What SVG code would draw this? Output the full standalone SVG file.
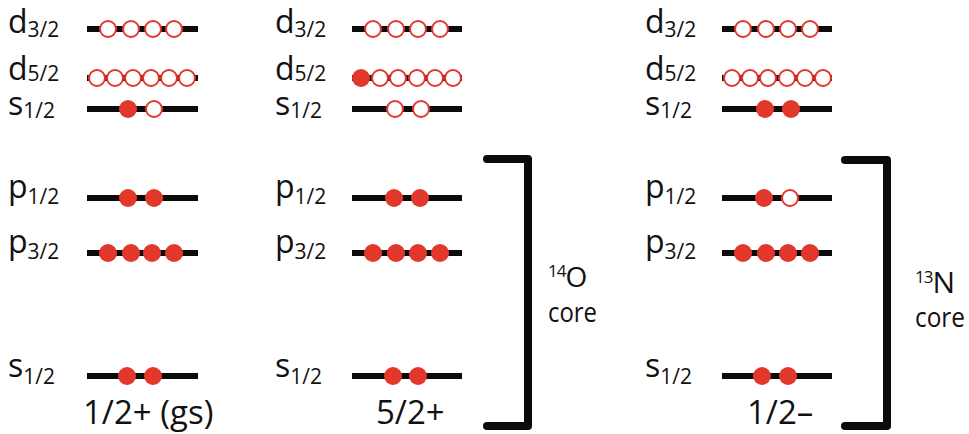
<svg xmlns="http://www.w3.org/2000/svg" width="969" height="434" viewBox="0 0 969 434">
<defs>
<style>
.lv{stroke:#0b0b0b;stroke-width:6;fill:none}
.f{fill:#e2382b}
.o{fill:#fff;stroke:#e2382b;stroke-width:2}
.lb{font-family:"Open Sans","Noto Sans",sans-serif;font-size:32px;fill:#111}
.sb{font-size:21px}
.st{font-family:"Open Sans","Noto Sans",sans-serif;font-size:33px;fill:#111}
.br{stroke:#0b0b0b;stroke-width:8;fill:none;stroke-linecap:round;stroke-linejoin:round}
.cr{font-family:"Open Sans","Noto Sans",sans-serif;font-size:27px;fill:#111}
</style>
</defs>
<rect width="969" height="434" fill="#fff"/>

<!-- Column 1 -->
<g id="col1">
<g id="c1-d32"><text class="lb" x="8" y="33">d<tspan class="sb" dy="4">3/2</tspan></text>
<line class="lv" x1="87" y1="29" x2="198" y2="29"/>
<circle class="o" cx="108" cy="29" r="8"/><circle class="o" cx="131" cy="29" r="8"/><circle class="o" cx="153" cy="29" r="8"/><circle class="o" cx="174" cy="29" r="8"/></g>
<g id="c1-d52"><text class="lb" x="8" y="80">d<tspan class="sb" dy="1">5/2</tspan></text>
<line class="lv" x1="87" y1="78" x2="198" y2="78"/>
<circle class="o" cx="97" cy="78" r="8"/><circle class="o" cx="115" cy="78" r="8"/><circle class="o" cx="133" cy="78" r="8"/><circle class="o" cx="151" cy="78" r="8"/><circle class="o" cx="169" cy="78" r="8"/><circle class="o" cx="187" cy="78" r="8"/></g>
<g id="c1-s12"><text class="lb" x="8" y="115">s<tspan class="sb" dy="3">1/2</tspan></text>
<line class="lv" x1="87" y1="109" x2="198" y2="109"/>
<circle class="f" cx="128" cy="109" r="9"/><circle class="o" cx="154" cy="109" r="8"/></g>
<g id="c1-p12"><text class="lb" x="8" y="198">p<tspan class="sb" dy="6">1/2</tspan></text>
<line class="lv" x1="87" y1="198" x2="198" y2="198"/>
<circle class="f" cx="128" cy="198" r="9"/><circle class="f" cx="154" cy="198" r="9"/></g>
<g id="c1-p32"><text class="lb" x="8" y="253">p<tspan class="sb" dy="6">3/2</tspan></text>
<line class="lv" x1="87" y1="253" x2="198" y2="253"/>
<circle class="f" cx="108" cy="253" r="9"/><circle class="f" cx="131" cy="253" r="9"/><circle class="f" cx="152" cy="253" r="9"/><circle class="f" cx="174" cy="253" r="9"/></g>
<g id="c1-s12b"><text class="lb" x="8" y="377">s<tspan class="sb" dy="7">1/2</tspan></text>
<line class="lv" x1="87" y1="376" x2="198" y2="376"/>
<circle class="f" cx="127" cy="376" r="9"/><circle class="f" cx="153" cy="376" r="9"/></g>
<text id="c1-state" class="st" x="83" y="424">1/2+ (gs)</text>
</g>

<!-- Column 2 -->
<g id="col2">
<g id="c2-d32"><text class="lb" x="275" y="33">d<tspan class="sb" dy="4">3/2</tspan></text>
<line class="lv" x1="352" y1="29" x2="462" y2="29"/>
<circle class="o" cx="373" cy="29" r="8"/><circle class="o" cx="396" cy="29" r="8"/><circle class="o" cx="418" cy="29" r="8"/><circle class="o" cx="440" cy="29" r="8"/></g>
<g id="c2-d52"><text class="lb" x="275" y="80">d<tspan class="sb" dy="1">5/2</tspan></text>
<line class="lv" x1="352" y1="78" x2="462" y2="78"/>
<circle class="f" cx="361" cy="78" r="9"/><circle class="o" cx="380" cy="78" r="8"/><circle class="o" cx="398" cy="78" r="8"/><circle class="o" cx="417" cy="78" r="8"/><circle class="o" cx="435" cy="78" r="8"/><circle class="o" cx="453" cy="78" r="8"/></g>
<g id="c2-s12"><text class="lb" x="275" y="115">s<tspan class="sb" dy="3">1/2</tspan></text>
<line class="lv" x1="352" y1="109" x2="462" y2="109"/>
<circle class="o" cx="395" cy="109" r="8"/><circle class="o" cx="421" cy="109" r="8"/></g>
<g id="c2-p12"><text class="lb" x="275" y="198">p<tspan class="sb" dy="6">1/2</tspan></text>
<line class="lv" x1="352" y1="198" x2="462" y2="198"/>
<circle class="f" cx="394" cy="198" r="9"/><circle class="f" cx="420" cy="198" r="9"/></g>
<g id="c2-p32"><text class="lb" x="275" y="253">p<tspan class="sb" dy="6">3/2</tspan></text>
<line class="lv" x1="352" y1="253" x2="462" y2="253"/>
<circle class="f" cx="373" cy="253" r="9"/><circle class="f" cx="396" cy="253" r="9"/><circle class="f" cx="418" cy="253" r="9"/><circle class="f" cx="440" cy="253" r="9"/></g>
<g id="c2-s12b"><text class="lb" x="275" y="377">s<tspan class="sb" dy="7">1/2</tspan></text>
<line class="lv" x1="352" y1="376" x2="462" y2="376"/>
<circle class="f" cx="393" cy="376" r="9"/><circle class="f" cx="418" cy="376" r="9"/></g>
<text id="c2-state" class="st" x="376" y="424">5/2+</text>
</g>

<!-- Column 3 -->
<g id="col3">
<g id="c3-d32"><text class="lb" x="645" y="33">d<tspan class="sb" dy="4">3/2</tspan></text>
<line class="lv" x1="722" y1="29" x2="832" y2="29"/>
<circle class="o" cx="743" cy="29" r="8"/><circle class="o" cx="766" cy="29" r="8"/><circle class="o" cx="788" cy="29" r="8"/><circle class="o" cx="810" cy="29" r="8"/></g>
<g id="c3-d52"><text class="lb" x="645" y="80">d<tspan class="sb" dy="1">5/2</tspan></text>
<line class="lv" x1="722" y1="78" x2="832" y2="78"/>
<circle class="o" cx="732" cy="78" r="8"/><circle class="o" cx="750" cy="78" r="8"/><circle class="o" cx="768" cy="78" r="8"/><circle class="o" cx="787" cy="78" r="8"/><circle class="o" cx="805" cy="78" r="8"/><circle class="o" cx="823" cy="78" r="8"/></g>
<g id="c3-s12"><text class="lb" x="645" y="115">s<tspan class="sb" dy="3">1/2</tspan></text>
<line class="lv" x1="722" y1="109" x2="832" y2="109"/>
<circle class="f" cx="765" cy="109" r="9"/><circle class="f" cx="791" cy="109" r="9"/></g>
<g id="c3-p12"><text class="lb" x="645" y="198">p<tspan class="sb" dy="6">1/2</tspan></text>
<line class="lv" x1="722" y1="198" x2="832" y2="198"/>
<circle class="f" cx="764" cy="198" r="9"/><circle class="o" cx="790" cy="198" r="8"/></g>
<g id="c3-p32"><text class="lb" x="645" y="253">p<tspan class="sb" dy="6">3/2</tspan></text>
<line class="lv" x1="722" y1="253" x2="832" y2="253"/>
<circle class="f" cx="743" cy="253" r="9"/><circle class="f" cx="766" cy="253" r="9"/><circle class="f" cx="788" cy="253" r="9"/><circle class="f" cx="810" cy="253" r="9"/></g>
<g id="c3-s12b"><text class="lb" x="645" y="377">s<tspan class="sb" dy="7">1/2</tspan></text>
<line class="lv" x1="722" y1="376" x2="832" y2="376"/>
<circle class="f" cx="762" cy="376" r="9"/><circle class="f" cx="788" cy="376" r="9"/></g>
<text id="c3-state" class="st" x="747" y="424">1/2–</text>
</g>

<!-- Core brackets -->
<g id="brackets">
<path class="br" d="M487,159 H528 V426 H487"/>
<path class="br" d="M845,160 H887 V426 H845"/>
</g>
<g id="core14O">
<text class="cr" x="548" y="287"><tspan font-size="17" dy="-10" letter-spacing="-1">14</tspan><tspan dy="10" font-size="28">O</tspan></text>
<text class="cr" x="548" y="322" textLength="49" lengthAdjust="spacingAndGlyphs">core</text>
</g>
<g id="core13N">
<text class="cr" x="915" y="293"><tspan font-size="17" dy="-10" letter-spacing="-1">13</tspan><tspan dy="10" font-size="30">N</tspan></text>
<text class="cr" x="915" y="327" textLength="50" lengthAdjust="spacingAndGlyphs">core</text>
</g>
</svg>
